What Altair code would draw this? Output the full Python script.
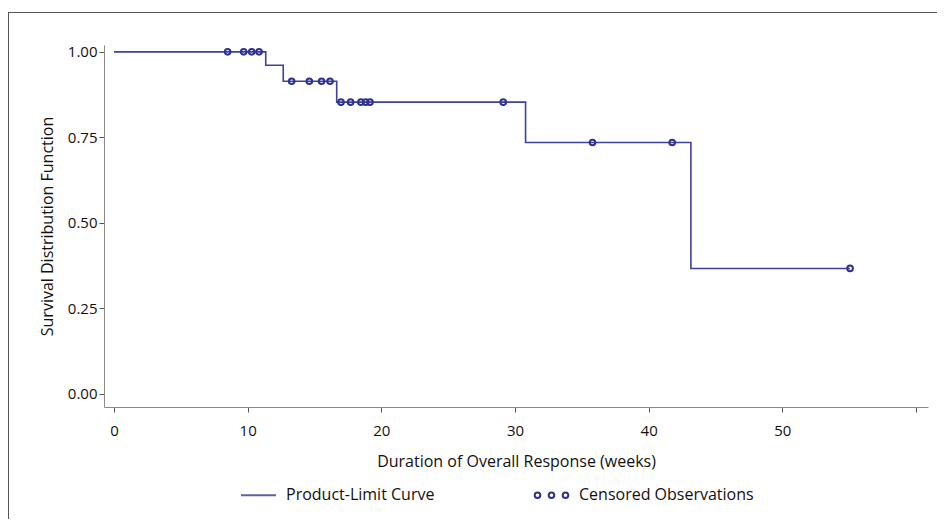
import altair as alt
import pandas as pd

# Product-limit (Kaplan-Meier) step curve
step_times = [0.0, 11.35, 12.66, 16.66, 30.79, 43.16, 55.07]
step_surv = [1.000, 0.961, 0.914, 0.853, 0.735, 0.367, 0.367]

# Censored observations
cens_times = [8.50, 9.70, 10.30, 10.85, 13.29, 14.61, 15.53, 16.16,
              16.98, 17.70, 18.47, 18.83, 19.15, 29.12, 35.80, 41.76, 55.07]
cens_surv = [1.000, 1.000, 1.000, 1.000, 0.914, 0.914, 0.914, 0.914,
             0.853, 0.853, 0.853, 0.853, 0.853, 0.853, 0.735, 0.735, 0.367]

legend_labels = ["Product-Limit Curve", "Censored Observations"]
y_ticks = [0.0, 0.25, 0.5, 0.75, 1.0]
x_ticks = [0, 10, 20, 30, 40, 50, 60]

FONT = "Open Sans"
LINE_COLOR = "#3d419e"
PT_COLOR = "#2e3192"

step_df = pd.DataFrame({"t": step_times, "s": step_surv})
cens_df = pd.DataFrame({"t": cens_times, "s": cens_surv})
leg_df = pd.DataFrame({"t": [step_times[0], step_times[0]],
                       "s": [step_surv[0], step_surv[0]],
                       "series": legend_labels})

three_circles = ("M -0.64,0 A 0.16,0.16 0 1,1 -0.96,0 A 0.16,0.16 0 1,1 -0.64,0 Z "
                 "M 0.16,0 A 0.16,0.16 0 1,1 -0.16,0 A 0.16,0.16 0 1,1 0.16,0 Z "
                 "M 0.96,0 A 0.16,0.16 0 1,1 0.64,0 A 0.16,0.16 0 1,1 0.96,0 Z")

xscale = alt.Scale(domain=[-0.75, 60.9], nice=False, zero=False)
yscale = alt.Scale(domain=[-0.038, 1.02], nice=False, zero=False)

xaxis = alt.Axis(values=x_ticks, title="Duration of Overall Response (weeks)",
                 labelExpr="datum.value == 60 ? '' : datum.label",
                 grid=False, tickSize=5, labelPadding=11, titlePadding=15,
                 domainColor="#8a8a8a", tickColor="#555555",
                 labelFont=FONT, labelFontSize=15, labelColor="#111111",
                 titleFont=FONT, titleFontSize=16, titleFontWeight="normal",
                 titleColor="#111111")
yaxis = alt.Axis(values=y_ticks, format=".2f", title="Survival Distribution Function",
                 grid=False, tickSize=5, labelPadding=2, titlePadding=12,
                 domainColor="#8a8a8a", tickColor="#555555",
                 labelFont=FONT, labelFontSize=15, labelColor="#111111",
                 titleFont=FONT, titleFontSize=16, titleFontWeight="normal",
                 titleColor="#111111")

frame = alt.Chart(step_df).mark_rect(filled=False, stroke="#555555", strokeWidth=1, clip=False).encode(
    x=alt.value(-95.5), x2=alt.value(1500), y=alt.value(-32.5), y2=alt.value(1500))

line = alt.Chart(step_df).mark_line(interpolate="step-after", color=LINE_COLOR, strokeWidth=1.6).encode(
    x=alt.X("t:Q", scale=xscale, axis=xaxis),
    y=alt.Y("s:Q", scale=yscale, axis=yaxis))

pts = alt.Chart(cens_df).mark_point(shape="circle", filled=False, size=32, strokeWidth=2,
                                   color=PT_COLOR, opacity=1).encode(
    x=alt.X("t:Q", scale=xscale),
    y=alt.Y("s:Q", scale=yscale))

legend = alt.Legend(title=None, orient="none", direction="horizontal",
                    legendX=136, legendY=431.5, symbolSize=1225, symbolStrokeWidth=2,
                    symbolOpacity=1, labelFont=FONT, labelFontSize=16, labelColor="#111111",
                    labelOffset=9, labelLimit=400, columnPadding=95)

leg = alt.Chart(leg_df).mark_point(filled=False, opacity=0).encode(
    x=alt.X("t:Q", scale=xscale),
    y=alt.Y("s:Q", scale=yscale),
    color=alt.Color("series:N", scale=alt.Scale(domain=legend_labels, range=["#5b60aa", PT_COLOR]),
                    legend=legend, sort=legend_labels),
    shape=alt.Shape("series:N", scale=alt.Scale(domain=legend_labels, range=["stroke", three_circles]),
                    legend=legend, sort=legend_labels))

chart = alt.layer(frame, line, pts, leg).properties(
    width=824, height=362,
    autosize=alt.AutoSizeParams(type="none"),
    padding={"left": 96, "top": 37, "right": 9, "bottom": 112},
).configure_view(stroke=None)

chart.save("out.html", embed_options={"renderer": "svg", "actions": False})
